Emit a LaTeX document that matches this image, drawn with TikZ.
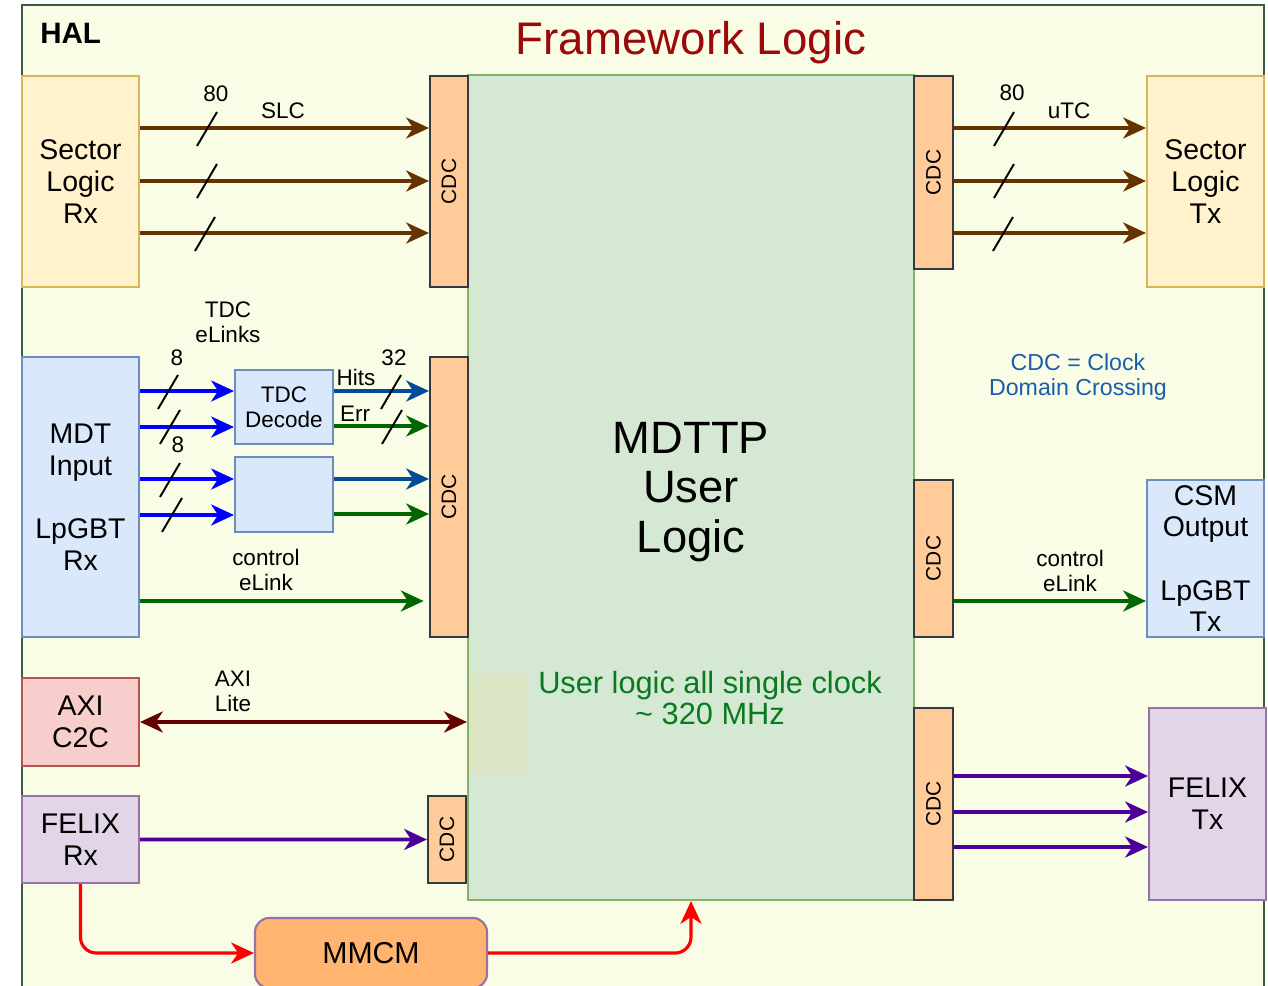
\documentclass[tikz,border=0pt]{standalone}
\usepackage{fontspec}
\setmainfont{Liberation Sans}
\usetikzlibrary{arrows.meta,fit}
\definecolor{bgc}{HTML}{FAFDE6}
\definecolor{halc}{HTML}{3D5C3D}
\definecolor{ttlc}{HTML}{9A0A0A}
\definecolor{gfill}{HTML}{D5E8D4}
\definecolor{gline}{HTML}{82B366}
\definecolor{yfill}{HTML}{FFF2CC}
\definecolor{yline}{HTML}{D6B656}
\definecolor{ofill}{HTML}{FFCC99}
\definecolor{oline}{HTML}{36393D}
\definecolor{bfill}{HTML}{DAE8FC}
\definecolor{bline}{HTML}{6C8EBF}
\definecolor{rfill}{HTML}{F8CECC}
\definecolor{rline}{HTML}{B85450}
\definecolor{pfill}{HTML}{E1D5E7}
\definecolor{pline}{HTML}{9673A6}
\definecolor{mfill}{HTML}{FFB570}
\definecolor{palec}{HTML}{DCE5C4}
\definecolor{brc}{HTML}{663300}
\definecolor{blc}{HTML}{0000FF}
\definecolor{dbc}{HTML}{004C99}
\definecolor{grc}{HTML}{006600}
\definecolor{drc}{HTML}{660000}
\definecolor{puc}{HTML}{4C0099}
\definecolor{rdc}{HTML}{FF0000}
\definecolor{cdtc}{HTML}{1A5EA8}
\definecolor{ulc}{HTML}{0A7A1E}
\newcommand\slashmark[2]{\draw[slashln] (#1,#2) +(-10,17) -- +(10,-17);}
\begin{document}
\begin{tikzpicture}[x=0.02cm, y=-0.02cm,
  >={Stealth[length=13pt,width=12pt,inset=4pt]},
  wh/.style 2 args={minimum width=#1*0.02cm, minimum height=#2*0.02cm},
  blk/.style={draw, line width=1.2pt, inner sep=0pt, align=center,
    font=\fontsize{16.2}{18}\selectfont},
  ybox/.style={blk, fill=yfill, draw=yline},
  bbox/.style={blk, fill=bfill, draw=bline},
  rbox/.style={blk, fill=rfill, draw=rline},
  pbox/.style={blk, fill=pfill, draw=pline},
  cdcbox/.style={blk, fill=ofill, draw=oline},
  cdctxt/.style={rotate=90, inner sep=0pt, font=\fontsize{11.9}{13}\selectfont},
  lbl/.style={inner sep=0pt, align=center, font=\fontsize{12.8}{14.2}\selectfont},
  arr/.style={line width=2pt, ->},
  brA/.style={arr, draw=brc, fill=brc},
  blA/.style={arr, draw=blc, fill=blc},
  dbA/.style={arr, draw=dbc, fill=dbc},
  grA/.style={arr, draw=grc, fill=grc},
  puA/.style={arr, draw=puc, fill=puc},
  rdA/.style={line width=1.8pt, ->, draw=rdc, rounded corners=9pt},
  slashln/.style={line width=1.1pt, black}
]
\useasboundingbox (0,0) rectangle (1268,986);
\clip (0,0) rectangle (1268,986);
\fill[white] (0,0) rectangle (1268,986);
\node[draw=halc, fill=bgc, line width=1.4pt, inner sep=0pt, fit={(22,5) (1264,1010)}] (hal) {};
\node[anchor=base west, inner sep=0pt, font=\fontsize{16.8}{18}\selectfont\bfseries] (haltxt) at (40,44) {HAL};
\node[anchor=base, inner sep=0pt, text=ttlc, font=\fontsize{26}{28}\selectfont] (title) at (691,55) {Framework Logic};

% main block
\node[draw=gline, fill=gfill, line width=1.2pt, inner sep=0pt, fit={(468,75) (914,900)}] (main) {};
\node[fill=palec, inner sep=0pt, fit={(469,674) (527,774)}] (pale) {};
\node[inner sep=0pt, align=center, font=\fontsize{25.8}{28.3}\selectfont] (mdttxt) at (691,492) {MDTTP\\User\\Logic};
\node[inner sep=0pt, align=center, text=ulc, font=\fontsize{17.5}{18.1}\selectfont] (ultxt) at (710,698) {User logic all single clock\\\textasciitilde{} 320 MHz};

% boxes
\node[ybox, wh={117}{211}] (slrx) at (80.5,181.5) {Sector\\Logic\\Rx};
\node[ybox, wh={117}{211}] (sltx) at (1205.5,181.5) {Sector\\Logic\\Tx};
\node[bbox, wh={117}{280}] (mdt) at (80.5,497) {MDT\\Input\\\mbox{}\\LpGBT\\Rx};
\node[bbox, wh={98}{74}, font=\fontsize{12.8}{14.2}\selectfont] (tdc) at (284,407) {TDC\\Decode};
\node[bbox, wh={98}{75}] (tdc2) at (284,494.5) {};
\node[bbox, wh={117}{157}] (csm) at (1205.5,558.5) {CSM\\Output\\\mbox{}\\LpGBT\\Tx};
\node[rbox, wh={117}{88}] (axi) at (80.5,722) {AXI\\C2C};
\node[pbox, wh={117}{87}] (felrx) at (80.5,839.5) {FELIX\\Rx};
\node[pbox, wh={117}{192}] (feltx) at (1207.5,804) {FELIX\\Tx};
\node[blk, fill=mfill, draw=pline, rounded corners=8pt, wh={232}{70}, font=\fontsize{17.2}{19}\selectfont] (mmcm) at (371,953) {MMCM};

% CDC blocks
\node[cdcbox, fit={(430,76) (468,287)}] (cdcA) {};
\node[cdcbox, fit={(914,76) (953,269)}] (cdcB) {};
\node[cdcbox, fit={(430,357) (468,637)}] (cdcC) {};
\node[cdcbox, fit={(914,480) (953,637)}] (cdcD) {};
\node[cdcbox, fit={(428,796) (466,883)}] (cdcE) {};
\node[cdcbox, fit={(914,708) (953,900)}] (cdcF) {};
\node[cdctxt] (cdcAt) at (cdcA) {CDC};
\node[cdctxt] (cdcBt) at (cdcB) {CDC};
\node[cdctxt] (cdcCt) at (cdcC) {CDC};
\node[cdctxt] (cdcDt) at (cdcD) {CDC};
\node[cdctxt] (cdcEt) at (cdcE) {CDC};
\node[cdctxt] (cdcFt) at (cdcF) {CDC};

% labels
\node[lbl, anchor=base] (l80a) at (216,102) {80};
\node[lbl, anchor=base] (lslc) at (283,119) {SLC};
\node[lbl, anchor=base] (l80b) at (1012,101) {80};
\node[lbl, anchor=base] (lutc) at (1069,119) {uTC};
\node[lbl] (ltdc) at (228,322) {TDC\\eLinks};
\node[lbl, anchor=base] (l8a) at (177,366) {8};
\node[lbl, anchor=base] (l8b) at (178,453) {8};
\node[lbl, anchor=base] (l32) at (394,366) {32};
\node[lbl, anchor=base] (lhits) at (356,386) {Hits};
\node[lbl, anchor=base] (lerr) at (355,421) {Err};
\node[lbl] (lctl) at (266,570) {control\\eLink};
\node[lbl] (lctr) at (1070,571) {control\\eLink};
\node[lbl] (laxi) at (233,691) {AXI\\Lite};
\node[lbl, text=cdtc, font=\fontsize{13.2}{14.2}\selectfont] (lcdc) at (1078,377) {CDC = Clock\\Domain Crossing};

% SLC / uTC
\foreach \yy in {128,181,233} {
  \draw[brA] (slrx.east |- 0,\yy) -- (cdcA.west |- 0,\yy);
  \draw[brA] (cdcB.east |- 0,\yy) -- (sltx.west |- 0,\yy);
}
\slashmark{207}{129}\slashmark{207}{181}\slashmark{205}{234}
\slashmark{1004}{129}\slashmark{1004}{181}\slashmark{1003}{234}

% MDT input
\draw[blA] (mdt.east |- 0,391) -- (tdc.west |- 0,391);
\draw[blA] (mdt.east |- 0,427) -- (tdc.west |- 0,427);
\draw[blA] (mdt.east |- 0,479) -- (tdc2.west |- 0,479);
\draw[blA] (mdt.east |- 0,515) -- (tdc2.west |- 0,515);
\slashmark{168}{392}\slashmark{170}{427}\slashmark{170}{480}\slashmark{172}{515}
\draw[dbA] (tdc.east |- 0,391) -- (cdcC.west |- 0,391);
\draw[grA] (tdc.east |- 0,426) -- (cdcC.west |- 0,426);
\draw[dbA] (tdc2.east |- 0,479) -- (cdcC.west |- 0,479);
\draw[grA] (tdc2.east |- 0,514) -- (cdcC.west |- 0,514);
\slashmark{391}{392}\slashmark{392}{427}
\draw[grA, shorten >=3pt] (mdt.east |- 0,601) -- (cdcC.west |- 0,601);
\draw[grA] (cdcD.east |- 0,601) -- (csm.west |- 0,601);

% AXI
\draw[line width=2pt, <->, draw=drc, fill=drc] (axi.east) -- (axi.east -| main.west);

% FELIX
\draw[puA] (felrx.east) -- (cdcE.west);
\foreach \yy in {776,812,847} {
  \draw[puA] (cdcF.east |- 0,\yy) -- (feltx.west |- 0,\yy);
}

% clock
\draw[rdA, fill=none] (felrx.south) |- (mmcm.west);
\draw[rdA, fill=none] (mmcm.east) -| (main.south);
\end{tikzpicture}
\end{document}
